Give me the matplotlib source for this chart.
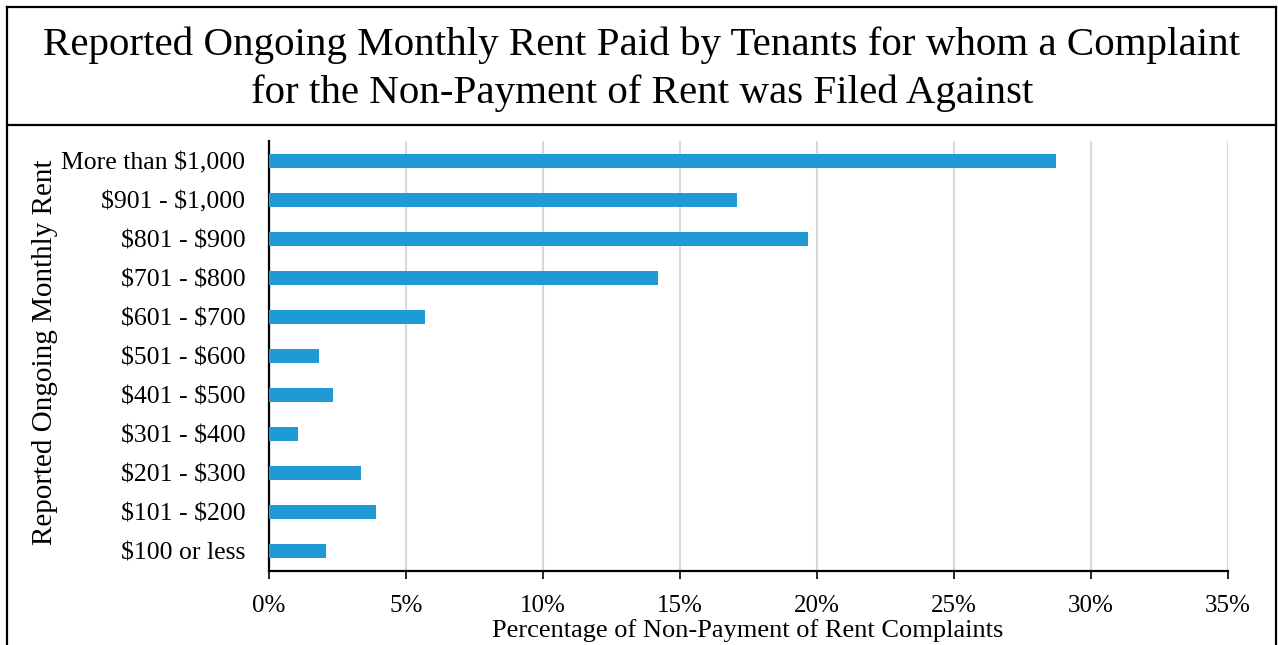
import matplotlib
matplotlib.use("Agg")
import matplotlib.pyplot as plt
from matplotlib.lines import Line2D

# --- data ---
categories = ["$100 or less", "$101 - $200", "$201 - $300", "$301 - $400",
              "$401 - $500", "$501 - $600", "$601 - $700", "$701 - $800",
              "$801 - $900", "$901 - $1,000", "More than $1,000"]
shares = [2.08, 3.9, 3.36, 1.06, 2.34, 1.82, 5.69, 14.2, 19.67, 17.08, 28.72]
x_ticks = [0, 5, 10, 15, 20, 25, 30, 35]
x_tick_labels = [f"{t}%" for t in x_ticks]

TITLE = ("Reported Ongoing Monthly Rent Paid by Tenants for whom a Complaint\n"
         "for the Non-Payment of Rent was Filed Against")
BAR_COLOR = "#1F9AD6"
W, H = 1278, 645

plt.rcParams['font.family'] = ['Liberation Serif', 'DejaVu Serif']
plt.rcParams['text.parse_math'] = False  # the $ signs are literal

fig = plt.figure(figsize=(W / 100, H / 100), dpi=100)

def fx(px):
    return px / W

def fy(py):
    return 1 - py / H

# outer frame and title divider
for xs, ys in [((7, 7), (7, 660)), ((1276, 1276), (7, 660)),
               ((7, 1276), (7, 7)), ((7, 1276), (125, 125))]:
    fig.add_artist(Line2D([fx(x) for x in xs], [fy(y) for y in ys],
                          color="black", lw=1.6, transform=fig.transFigure))

fig.text(fx(642), fy(69), TITLE, ha="center", va="center", fontsize=29.5,
         linespacing=1.38)

ax = fig.add_axes([fx(269), fy(571), fx(1228) - fx(269), fy(141) - fy(571)])
ax.barh(range(len(categories)), shares, height=0.36, color=BAR_COLOR, zorder=3)

ax.set_xlim(0, 35)
ax.set_ylim(-0.5, len(categories) - 0.5)
ax.set_xticks(x_ticks)
ax.set_xticklabels(x_tick_labels, fontsize=18)
ax.set_yticks(range(len(categories)))
ax.set_yticklabels(categories, fontsize=18.5)
ax.tick_params(axis="y", length=0, pad=17)
ax.tick_params(axis="x", length=6, width=1.2, direction="out", pad=11)

ax.grid(axis="x", color="#d9d9d9", lw=1.5, zorder=0)
for s in ["top", "right"]:
    ax.spines[s].set_visible(False)
for s in ["left", "bottom"]:
    ax.spines[s].set_linewidth(1.6)

# axis titles placed where the reference has them
fig.text(fx(748), fy(631), "Percentage of Non-Payment of Rent Complaints",
         ha="center", va="center", fontsize=19)
fig.text(fx(45), fy(352), "Reported Ongoing Monthly Rent", ha="center",
         va="center", rotation=90, fontsize=21)

fig.savefig("out.png", dpi=100)
